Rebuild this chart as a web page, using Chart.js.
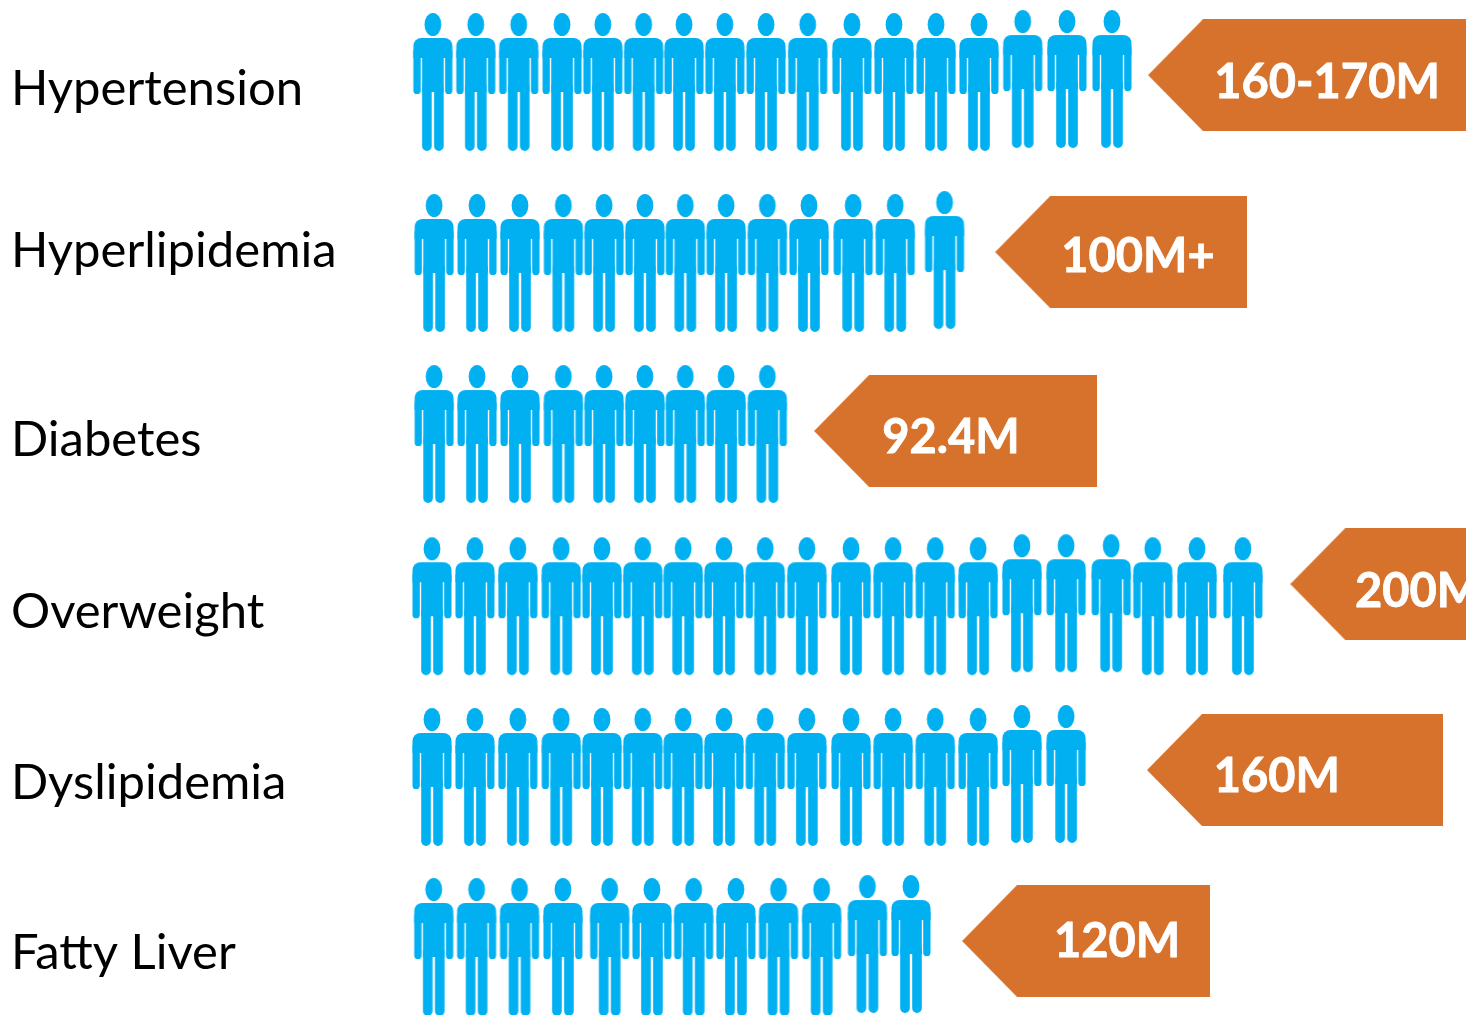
<!DOCTYPE html>
<html>
<head>
<meta charset="utf-8">
<title>Pictogram</title>
<script src="https://cdn.jsdelivr.net/npm/chart.js@4"></script>
<style>
  html, body { margin: 0; padding: 0; background: #fff; overflow: hidden; }
  canvas { display: block; }
</style>
</head>
<body>
<canvas id="myChart" width="1466" height="1015"></canvas>
<script>
// the data
var categories = ['Hypertension', 'Hyperlipidemia', 'Diabetes', 'Overweight', 'Dyslipidemia', 'Fatty Liver'];
var peopleCounts = [17, 13, 9, 20, 16, 12];
var badgeLabels = ['160-170M', '100M+', '92.4M', '200M', '160M', '120M'];

// layout, in axis units: x = one person slot, y = one row
var slotPx = 42.5;
var rowPx = 173;
var slotPos = [0, 1.01, 2.02, 3.04, 4, 4.96, 5.91, 6.87, 7.84, 8.82, 9.86, 10.85, 11.84, 12.85, 13.88, 14.92, 15.98, 16.96, 18, 19.08];
var rowStart = [0.02, 0.05, 0.05, 0, 0, 0.04];
var rowPitch = [1, 1, 1, 1, 1, 1.035];
var pitchFrom = [0, 0, 0, 0, 0, 4];
var lastGap = [0, 0.17, 0, 0, 0, 0];
var rowNudge = [0, 0.046, 0.035, 0.03, 0.017, 0];
var raised = [[14, 15, 16], [12], [], [14, 15, 16], [14, 15], [10, 11]];
var raiseBy = 0.017;
var labelRows = [0.04, 0.976, 2.07, 3.064, 4.052, 5.035];
var badgeTip = [16.85, 13.25, 8.99, 20.19, 16.82, 12.47];
var badgeEnd = [25.27, 19.18, 15.65, 26.2, 23.79, 18.31];
var badgeRow = [-0.04, 0.983, 2.017, 2.902, 3.977, 4.965];
var badgeTextX = [21.06, 16.61, 12.21, 23.2, 19.88, 16.12];
var badgeTextRow = [0.006, 1.012, 2.058, 2.948, 4.018, 4.972];

var blue = '#00B0F0';
var orange = '#D7722D';

function personIcon() {
  var c = document.createElement('canvas');
  c.width = 42;
  c.height = 140;
  var g = c.getContext('2d');
  g.fillStyle = blue;
  g.translate(21, 0);
  g.beginPath();
  g.ellipse(0, 12.5, 8.4, 11.5, 0, 0, Math.PI * 2);
  g.fill();
  g.beginPath();
  g.roundRect(-19.5, 26, 39, 20, [8, 8, 0, 0]);
  g.fill();
  g.beginPath();
  g.roundRect(-19.5, 36, 7.3, 46, 3.6);
  g.roundRect(12.2, 36, 7.3, 46, 3.6);
  g.fill();
  g.fillRect(-10.8, 40, 21.6, 40);
  g.beginPath();
  g.roundRect(-10.8, 70, 9.6, 69, 4.8);
  g.roundRect(1.2, 70, 9.6, 69, 4.8);
  g.fill();
  return c;
}

function badgeIcon(i) {
  var w = Math.round((badgeEnd[i] - badgeTip[i]) * slotPx);
  var c = document.createElement('canvas');
  c.width = w;
  c.height = 112;
  var g = c.getContext('2d');
  g.fillStyle = orange;
  g.beginPath();
  g.moveTo(0, 56);
  g.lineTo(55, 0);
  g.lineTo(w, 0);
  g.lineTo(w, 112);
  g.lineTo(55, 112);
  g.closePath();
  g.fill();
  return c;
}

var person = personIcon();
var datasets = [];

categories.forEach(function(name, r) {
  var points = [];
  for (var i = 0; i < peopleCounts[r]; i++) {
    var x = rowStart[r] + slotPos[i] * (i >= pitchFrom[r] ? rowPitch[r] : 1);
    if (i === peopleCounts[r] - 1) x += lastGap[r];
    var y = r + rowNudge[r];
    if (raised[r].indexOf(i) >= 0) y -= raiseBy;
    points.push({ x: x, y: y });
  }
  datasets.push({
    label: name,
    data: points,
    pointStyle: person,
    pointRadius: 20
  });
});

datasets.push({
  label: 'badges',
  data: badgeLabels.map(function(t, i) {
    return { x: (badgeTip[i] + badgeEnd[i]) / 2, y: badgeRow[i] };
  }),
  pointStyle: badgeLabels.map(function(t, i) { return badgeIcon(i); }),
  pointRadius: 20
});

var badgeText = {
  id: 'badgeText',
  afterDatasetsDraw: function(chart) {
    var ctx = chart.ctx;
    ctx.save();
    ctx.fillStyle = '#fff';
    ctx.strokeStyle = '#fff';
    ctx.lineWidth = 0.8;
    ctx.font = 'bold 47px Lato';
    ctx.textAlign = 'center';
    ctx.textBaseline = 'middle';
    badgeLabels.forEach(function(t, i) {
      var px = chart.scales.x.getPixelForValue(badgeTextX[i]);
      var py = chart.scales.y.getPixelForValue(badgeTextRow[i]);
      ctx.fillText(t, px, py);
      ctx.strokeText(t, px, py);
    });
    ctx.restore();
  }
};

new Chart(document.getElementById('myChart').getContext('2d'), {
  type: 'scatter',
  data: { datasets: datasets },
  plugins: [badgeText],
  options: {
    responsive: false,
    animation: false,
    events: [],
    layout: { padding: 0, autoPadding: false },
    plugins: { legend: { display: false }, tooltip: { enabled: false } },
    scales: {
      x: {
        display: false,
        min: -432 / slotPx,
        max: (1466 - 432) / slotPx
      },
      y: {
        reverse: true,
        min: -82 / rowPx,
        max: (1015 - 82) / rowPx,
        grid: { display: false },
        border: { display: false },
        afterBuildTicks: function(scale) {
          scale.ticks = labelRows.map(function(v) { return { value: v }; });
        },
        afterFit: function(scale) {
          scale.width = 0;
          scale.paddingTop = 0;
          scale.paddingBottom = 0;
          scale.paddingLeft = 0;
          scale.paddingRight = 0;
        },
        ticks: {
          mirror: true,
          padding: 11,
          autoSkip: false,
          color: '#000',
          font: { family: 'Lato', size: 49 },
          callback: function(value, index) { return categories[index]; }
        }
      }
    }
  }
});
</script>
</body>
</html>
